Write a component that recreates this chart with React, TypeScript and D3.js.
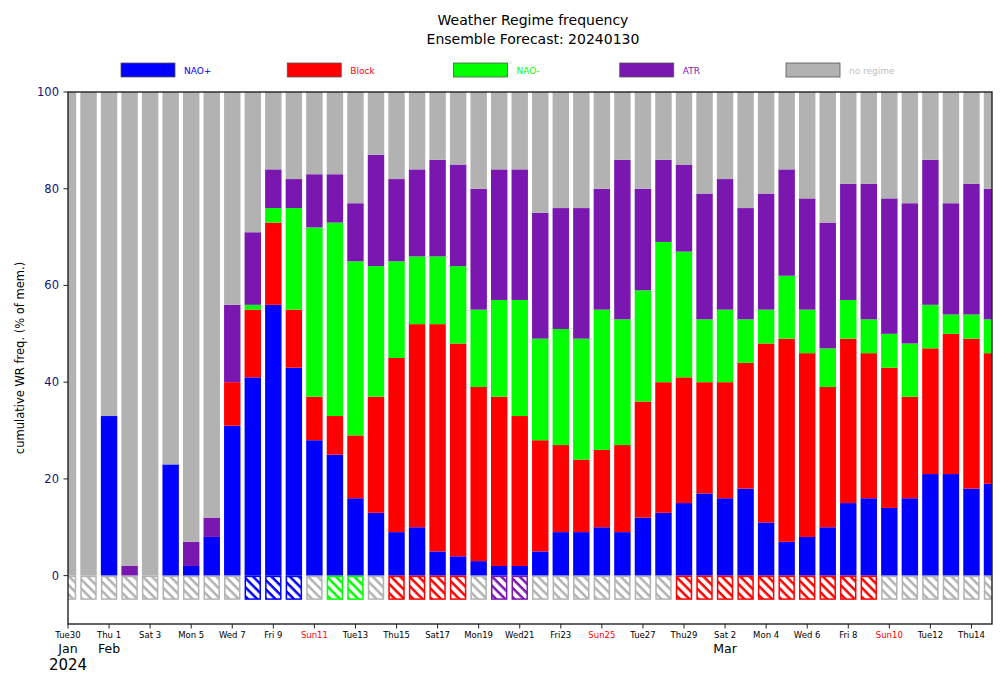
import React from 'react';
import * as d3 from 'd3';

const dates = [
  '2024-01-30', '2024-01-31',
  '2024-02-01', '2024-02-02', '2024-02-03', '2024-02-04', '2024-02-05', '2024-02-06', '2024-02-07',
  '2024-02-08', '2024-02-09', '2024-02-10', '2024-02-11', '2024-02-12', '2024-02-13', '2024-02-14',
  '2024-02-15', '2024-02-16', '2024-02-17', '2024-02-18', '2024-02-19', '2024-02-20', '2024-02-21',
  '2024-02-22', '2024-02-23', '2024-02-24', '2024-02-25', '2024-02-26', '2024-02-27', '2024-02-28',
  '2024-02-29',
  '2024-03-01', '2024-03-02', '2024-03-03', '2024-03-04', '2024-03-05', '2024-03-06', '2024-03-07',
  '2024-03-08', '2024-03-09', '2024-03-10', '2024-03-11', '2024-03-12', '2024-03-13', '2024-03-14',
  '2024-03-15',
];

const naoPlus = [0, 0, 33, 0, 0, 23, 2, 8, 31, 41, 56, 43, 28, 25, 16, 13, 9, 10, 5, 4, 3, 2, 2, 5, 9, 9, 10, 9, 12, 13, 15, 17, 16, 18, 11, 7, 8, 10, 15, 16, 14, 16, 21, 21, 18, 19];
const block = [0, 0, 0, 0, 0, 0, 0, 0, 9, 14, 17, 12, 9, 8, 13, 24, 36, 42, 47, 44, 36, 35, 31, 23, 18, 15, 16, 18, 24, 27, 26, 23, 24, 26, 37, 42, 38, 29, 34, 30, 29, 21, 26, 29, 31, 27];
const naoMinus = [0, 0, 0, 0, 0, 0, 0, 0, 0, 1, 3, 21, 35, 40, 36, 27, 20, 14, 14, 16, 16, 20, 24, 21, 24, 25, 29, 26, 23, 29, 26, 13, 15, 9, 7, 13, 9, 8, 8, 7, 7, 11, 9, 4, 5, 7];
const atr = [0, 0, 0, 2, 0, 0, 5, 4, 16, 15, 8, 6, 11, 10, 12, 23, 17, 18, 20, 21, 25, 27, 27, 26, 25, 27, 25, 33, 21, 17, 18, 26, 27, 23, 24, 22, 23, 26, 24, 28, 28, 29, 30, 23, 27, 27];
const noRegime = [100, 100, 67, 98, 100, 77, 93, 88, 44, 29, 16, 18, 17, 17, 23, 13, 18, 16, 14, 15, 20, 16, 16, 25, 24, 24, 20, 14, 20, 14, 15, 21, 18, 24, 21, 16, 22, 27, 19, 19, 22, 23, 14, 23, 19, 20];

// regime flagged below the zero line for each day
const flagged = [
  'none', 'none', 'none', 'none', 'none', 'none', 'none', 'none', 'none',
  'NAO+', 'NAO+', 'NAO+', 'none', 'NAO-', 'NAO-', 'none',
  'Block', 'Block', 'Block', 'Block', 'none', 'ATR', 'ATR',
  'none', 'none', 'none', 'none', 'none', 'none', 'none',
  'Block', 'Block', 'Block', 'Block', 'Block', 'Block', 'Block', 'Block', 'Block', 'Block',
  'none', 'none', 'none', 'none', 'none', 'none',
];

const regimeKeys = ['NAO+', 'Block', 'NAO-', 'ATR', 'no regime'];
const regimeColors = ['#0000ff', '#ff0000', '#00ff00', '#7a17b0', '#b2b2b2'];
const legendTextColors = ['#0000ff', '#ff0000', '#00ff00', '#7a17b0', '#c0c0c0'];
const yTicks = [0, 20, 40, 60, 80, 100];

const W = 1007;
const H = 684;
const left = 68;
const right = 992;
const top = 92;
const bottom = 624;

export default function App() {
  const parse = d3.utcParse('%Y-%m-%d');
  const days = dates.map((d) => parse(d) as Date);
  const rows = days.map((d, i) => ({
    date: d,
    'NAO+': naoPlus[i],
    Block: block[i],
    'NAO-': naoMinus[i],
    ATR: atr[i],
    'no regime': noRegime[i],
  }));

  const x = d3.scaleUtc().domain([days[0], days[days.length - 1]]).range([left, right]);
  const y = d3.scaleLinear().domain([-10, 100]).range([bottom, top]);
  const step = x(days[1]) - x(days[0]);
  const bw = step * 0.8;

  const stack = d3.stack<any>().keys(regimeKeys);
  const series = stack(rows as any);

  const colorOf = d3.scaleOrdinal<string, string>().domain(regimeKeys).range(regimeColors);
  const flagColor = (f: string) => (f === 'none' ? colorOf('no regime') : colorOf(f));

  const tickDays = days.filter((_, i) => i % 2 === 0);
  const fmt = d3.utcFormat('%a%e');
  const monthFmt = d3.utcFormat('%b');
  const legendX = d3.scaleLinear().domain([0, 4]).range([121, 786]);

  const flagKinds = ['none', 'NAO+', 'Block', 'NAO-', 'ATR'];
  const patId = (f: string) => 'hatch-' + f.replace('+', 'p').replace('-', 'm');

  const seenMonths = new Set<string>();

  return (
    <svg width={W} height={H} style={{ position: 'absolute', left: 0, top: 0, background: '#fff' }}
      fontFamily="'DejaVu Sans', sans-serif">
      <defs>
        <clipPath id="plotclip">
          <rect x={left} y={top} width={right - left} height={bottom - top} />
        </clipPath>
        {flagKinds.map((f) => (
          <pattern key={f} id={patId(f)} patternUnits="userSpaceOnUse" width={6.5} height={6.5}
            patternTransform="rotate(45)">
            <rect x={0} y={0} width={6.5} height={6.5} fill="#fff" />
            <rect x={0} y={0} width={6.5} height={2.5} fill={flagColor(f)} />
          </pattern>
        ))}
      </defs>

      {/* title */}
      <text x={533} y={25} textAnchor="middle" fontSize={14} fill="#000">Weather Regime frequency</text>
      <text x={533} y={44} textAnchor="middle" fontSize={14} fill="#000">Ensemble Forecast: 20240130</text>

      {/* legend */}
      {regimeKeys.map((k, i) => (
        <g key={k}>
          <rect x={legendX(i)} y={63} width={54} height={14} fill={regimeColors[i]} stroke="#555" strokeWidth={0.8} />
          <text x={legendX(i) + 63} y={73.5} fontSize={9} fill={legendTextColors[i]}>{k}</text>
        </g>
      ))}

      {/* bars */}
      <g clipPath="url(#plotclip)">
        {series.map((s) => (
          <g key={s.key} fill={colorOf(s.key)}>
            {s.map((d, i) => {
              const h = y(d[0]) - y(d[1]);
              if (h <= 0) return null;
              return (
                <rect key={i} x={x(days[i]) - bw / 2} y={y(d[1])} width={bw} height={h} />
              );
            })}
          </g>
        ))}
        {flagged.map((f, i) => (
          <rect key={'f' + i} x={x(days[i]) - bw / 2 + 0.75} y={y(0) + 0.75} width={bw - 1.5}
            height={y(-5) - y(0) - 1.5} fill={`url(#${patId(f)})`} stroke={flagColor(f)} strokeWidth={1.5} />
        ))}
      </g>

      {/* frame */}
      <rect x={left} y={top} width={right - left} height={bottom - top} fill="none" stroke="#222" strokeWidth={1.4} />

      {/* y axis */}
      {yTicks.map((t) => (
        <g key={t}>
          <line x1={left - 4.5} x2={left} y1={y(t)} y2={y(t)} stroke="#222" strokeWidth={1} />
          <text x={left - 9} y={y(t) + 4} textAnchor="end" fontSize={11.5} fill="#131377">{t}</text>
        </g>
      ))}
      <text transform={`translate(24,${(top + bottom) / 2}) rotate(-90)`} textAnchor="middle" fontSize={11.5} fill="#000">
        cumulative WR freq. (% of mem.)
      </text>

      {/* x axis */}
      {tickDays.map((d, i) => {
        const xx = x(d);
        const isSun = d.getUTCDay() === 0;
        const m = monthFmt(d);
        const showMonth = !seenMonths.has(m);
        seenMonths.add(m);
        return (
          <g key={i}>
            <line x1={xx} x2={xx} y1={bottom} y2={bottom + 4.5} stroke="#222" strokeWidth={1} />
            <text x={xx} y={638} textAnchor="middle" fontSize={8.5} fill={isSun ? '#ff0000' : '#000'}
              style={{ whiteSpace: 'pre' }}>{fmt(d)}</text>
            {showMonth && (
              <text x={xx} y={653} textAnchor="middle" fontSize={12.5} fill="#000">{m}</text>
            )}
            {i === 0 && (
              <text x={xx} y={670} textAnchor="middle" fontSize={15} fill="#000">{d3.utcFormat('%Y')(d)}</text>
            )}
          </g>
        );
      })}
    </svg>
  );
}
